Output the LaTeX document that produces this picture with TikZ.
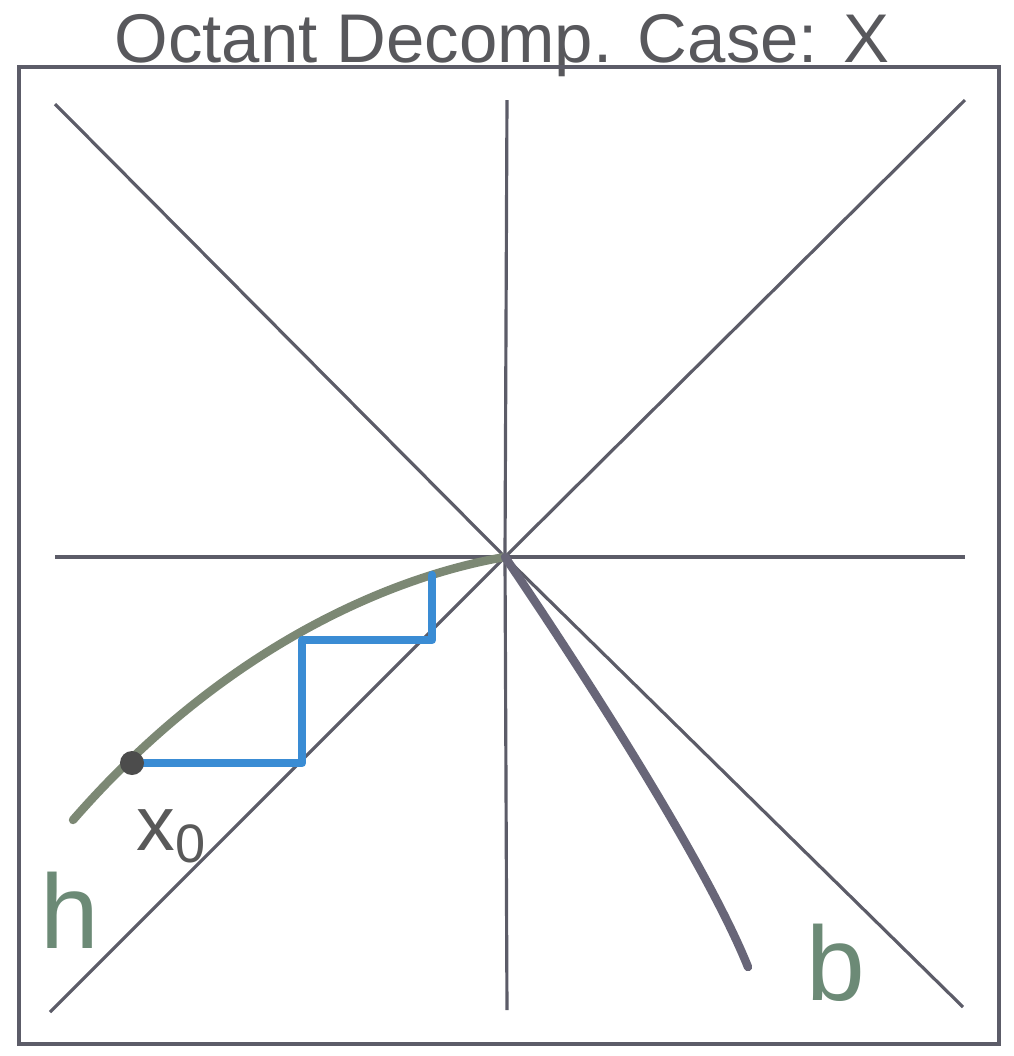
\documentclass[tikz,border=0pt]{standalone}
\usepackage{fontspec}
\setmainfont{Liberation Sans}
\usepackage{xcolor}
\usetikzlibrary{positioning}
\definecolor{axisgray}{RGB}{92,92,104}
\definecolor{titlegray}{RGB}{88,88,92}
\definecolor{pathgreen}{RGB}{124,136,116}
\definecolor{pathgray}{RGB}{104,102,120}
\definecolor{stairblue}{RGB}{58,140,212}
\definecolor{penlabel}{RGB}{108,138,118}

\begin{document}
\begin{tikzpicture}[
    x=0.01cm, y=-0.01cm,
    axis/.style={axisgray, line width=0.9pt},
    frame/.style={axisgray, line width=1.1pt},
    curve/.style={line width=2.4pt, line cap=round, line join=round},
    stair/.style={stairblue, line width=2.4pt, line cap=round, line join=round},
    dot/.style={fill=black!70, circle, inner sep=0pt, minimum size=0.24cm},
    pen/.style={inner sep=0pt, font=\fontsize{30}{30}\selectfont},
  ]
    \useasboundingbox (0,0) rectangle (1014,1056);

    % Title sits on the top edge of the frame
    \node[anchor=base, inner sep=0pt, titlegray, font=\fontsize{19.6}{22}\selectfont]
      (title) at (502,62) {Octant Decomp. Case: X};
    \draw[frame] (19,67) rectangle (999,1044);

    % Octant lines through the centre
    \coordinate (O) at (505,557);
    \coordinate (top) at (507,100);
    \coordinate (bot) at (507,1010);
    \coordinate (lft) at (55,557);
    \coordinate (rgt) at (965,557);
    \coordinate (ul) at (55,104);
    \coordinate (lr) at (963,1007);
    \coordinate (ur) at (965,100);
    \coordinate (ll) at (50,1012);
    \foreach \e in {top,bot,lft,rgt,ul,lr,ur,ll} {
      \draw[axis] (O) -- (\e);
    }

    % --- the curve: rising branch (left), falling branch (right)
    \coordinate (hend) at (73,820);
    \coordinate (bend) at (748,967);
    \draw[curve, pathgreen] (hend) .. controls (230,640) and (400,575) .. (O);
    \draw[curve, pathgray] (O) .. controls (575,660) and (705,860) .. (bend);

    % --- staircase from x0 up to the centre
    \coordinate (x0) at (132,763);
    \coordinate (s1) at (302,763);
    \coordinate (s2) at (302,640);
    \coordinate (s3) at (432,640);
    \coordinate (s4) at (432,575);
    \draw[stair] (x0) -- (s1) -- (s2) -- (s3) -- (s4);
    \node[dot] (start) at (x0) {};

    % --- hand labels
    \node[pen, black!65, anchor=base west, font=\fontsize{22}{22}\selectfont]
      (xlab) at (136,850) {x\textsubscript{0}};
    \node[pen, penlabel, anchor=base west] (hlab) at (40,948) {h};
    \node[pen, penlabel, anchor=base west] (blab) at (806,1000) {b};
  \end{tikzpicture}
\end{document}
